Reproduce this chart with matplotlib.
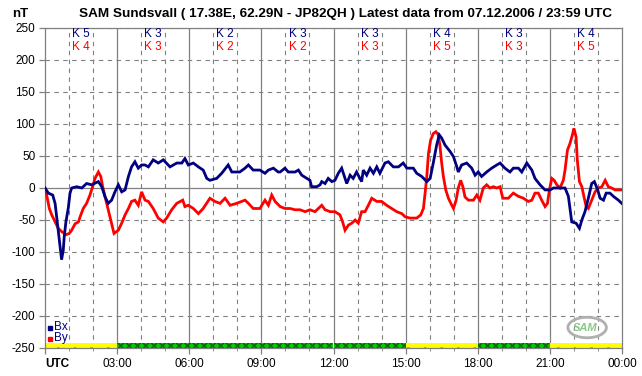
import matplotlib
matplotlib.use("Agg")
import matplotlib.pyplot as plt
from matplotlib.patches import Rectangle, Ellipse

plt.rcParams['font.family'] = ['Liberation Sans', 'DejaVu Sans']
plt.rcParams['hatch.linewidth'] = 1.2

# ---- data (hours UTC, nT) ----
bx_t = [0.0, 0.14, 0.32, 0.42, 0.51, 0.6, 0.65, 0.69, 0.76, 0.8, 0.87, 0.97, 1.04, 1.11, 1.32, 1.53,
        1.73, 1.94, 2.22, 2.36, 2.5, 2.63, 2.77, 2.91, 3.05, 3.19, 3.33, 3.47, 3.6, 3.74, 3.88, 4.02,
        4.16, 4.3, 4.5, 4.71, 4.92, 5.2, 5.48, 5.69, 5.82, 5.96, 6.17, 6.38, 6.58, 6.73, 6.86, 7.14,
        7.35, 7.62, 7.77, 8.1, 8.32, 8.46, 8.66, 8.94, 9.15, 9.29, 9.5, 9.7, 9.78, 9.98, 10.12, 10.4,
        10.54, 10.68, 10.89, 11.02, 11.09, 11.3, 11.44, 11.51, 11.65, 11.78, 11.93, 12.06, 12.2, 12.34,
        12.41, 12.55, 12.69, 12.82, 12.96, 13.03, 13.17, 13.24, 13.38, 13.52, 13.66, 13.8, 13.93, 14.14,
        14.28, 14.49, 14.7, 14.9, 15.05, 15.11, 15.32, 15.46, 15.67, 15.88, 16.02, 16.15, 16.29, 16.4,
        16.5, 16.64, 16.85, 16.99, 17.13, 17.19, 17.33, 17.54, 17.75, 17.89, 18.02, 18.16, 18.37, 18.58,
        18.79, 18.93, 19.13, 19.34, 19.48, 19.69, 19.83, 20.04, 20.25, 20.38, 20.59, 20.8, 21.01, 21.15,
        21.35, 21.63, 21.77, 21.91, 22.09, 22.23, 22.33, 22.46, 22.6, 22.74, 22.85, 22.99, 23.09, 23.23,
        23.34, 23.5, 23.64, 23.85, 23.99]
bx_v = [0, -8, -11, -24, -53, -81, -97, -112, -97, -76, -53, -31, -8, 0, 2, 0,
        7, 5, 10, 2, -14, -24, -19, -6, 5, -6, -3, 18, 33, 41, 31, 36,
        36, 33, 44, 39, 44, 33, 39, 39, 46, 36, 39, 33, 28, 15, 12, 15,
        23, 36, 25, 25, 31, 36, 28, 28, 23, 28, 31, 25, 25, 31, 25, 25,
        28, 20, 15, 12, 2, 2, 5, 10, 7, 15, 10, 12, 23, 31,
        23, 7, 20, 15, 25, 20, 10, 28, 20, 31, 23, 33, 23, 39,
        41, 33, 33, 39, 31, 31, 31, 23, 18, 10, 15, 39, 67, 83,
        78, 67, 57, 49, 33, 25, 36, 39, 31, 20, 25, 18, 25, 31,
        36, 39, 31, 25, 31, 31, 25, 39, 28, 15, 5, -3, -3, 0,
        0, 0, -13, -53, -55, -63, -50, -37, -16, 7, 10, -3, -16, -19,
        -8, -8, -13, -19, -24]

by_t = [0.0, 0.07, 0.18, 0.28, 0.42, 0.55, 0.69, 0.87, 1.01, 1.11, 1.25, 1.39, 1.46, 1.59, 1.73, 1.87,
        1.98, 2.08, 2.22, 2.32, 2.4, 2.5, 2.63, 2.77, 2.87, 3.05, 3.19, 3.33, 3.47, 3.6, 3.74, 3.88,
        4.02, 4.16, 4.3, 4.5, 4.71, 4.92, 5.06, 5.27, 5.48, 5.73, 5.82, 5.96, 6.17, 6.38, 6.58, 6.86,
        7.07, 7.28, 7.49, 7.7, 7.97, 8.32, 8.46, 8.66, 8.94, 9.15, 9.29, 9.43, 9.57, 9.78, 9.98, 10.19,
        10.4, 10.61, 10.82, 11.02, 11.23, 11.37, 11.51, 11.65, 11.86, 12.06, 12.27, 12.38, 12.48, 12.62,
        12.76, 12.9, 13.03, 13.17, 13.31, 13.45, 13.59, 13.8, 14.0, 14.21, 14.42, 14.63, 14.84, 14.98,
        15.18, 15.46, 15.63, 15.74, 15.81, 15.88, 15.95, 16.04, 16.15, 16.26, 16.36, 16.43, 16.5, 16.57,
        16.67, 16.78, 16.92, 16.99, 17.1, 17.19, 17.29, 17.38, 17.47, 17.61, 17.82, 17.96, 18.09, 18.23,
        18.37, 18.51, 18.65, 18.79, 18.93, 19.04, 19.27, 19.48, 19.69, 19.9, 20.1, 20.25, 20.38, 20.52,
        20.66, 20.8, 20.9, 20.98, 21.08, 21.18, 21.29, 21.42, 21.56, 21.63, 21.73, 21.84, 21.95, 22.0,
        22.09, 22.14, 22.23, 22.33, 22.42, 22.51, 22.6, 22.74, 22.88, 23.02, 23.16, 23.3, 23.43, 23.57,
        23.71, 23.99]
by_v = [0, -11, -32, -42, -53, -63, -68, -73, -71, -66, -56, -53, -45, -32, -24, -11,
        2, 15, 25, 18, 2, -14, -34, -55, -71, -66, -55, -42, -32, -21, -19, -27,
        -6, -19, -21, -32, -47, -53, -47, -34, -24, -19, -29, -27, -32, -40, -32, -16,
        -21, -24, -16, -27, -24, -19, -24, -32, -32, -19, -27, -11, -21, -29, -32, -32,
        -34, -34, -37, -34, -37, -32, -27, -34, -37, -37, -42, -53, -66, -58,
        -55, -50, -55, -37, -37, -27, -16, -21, -21, -27, -32, -37, -40, -45,
        -47, -47, -42, -32, -8, 18, 54, 75, 85, 88, 83, 65, 39, 18,
        -3, -16, -27, -32, -19, 0, 12, 2, -14, -19, -19, -11, -19, 0,
        5, 0, 2, 0, 2, -16, -16, -8, -13, -16, -21, -19, -8, -8,
        -19, -29, -24, -3, 15, 12, 5, 0, 12, 28, 59, 70, 85, 93,
        80, 44, 10, 2, -14, -29, -32, -19, -6, 0, 2, 12, 2, 0,
        -3, -3]

block_start = [0, 3, 6, 9, 12, 15, 18, 21]
k_bx = [5, 3, 2, 3, 3, 4, 3, 4]
k_by = [4, 3, 2, 2, 3, 5, 3, 5]
status = ['Y', 'G', 'G', 'G', 'G', 'Y', 'G', 'Y']
x_tick_labels = ['UTC', '03:00', '06:00', '09:00', '12:00', '15:00', '18:00', '21:00', '00:00']

title = "SAM Sundsvall ( 17.38E, 62.29N - JP82QH ) Latest data from 07.12.2006 / 23:59 UTC"

NAVY = '#000080'
RED = '#ff0000'
GRID = '#808080'

W, H = 642, 376
fig = plt.figure(figsize=(W / 100, H / 100), dpi=100)
fig.patch.set_facecolor('white')
ax = fig.add_axes([45 / W, 1 - 348 / H, (622 - 45) / W, (348 - 28) / H])
ax.set_xlim(0, 24)
ax.set_ylim(-250, 250)

# grid
for h in range(1, 24):
    if h % 3 == 0:
        ax.axvline(h, color=GRID, lw=0.9, zorder=1)
    else:
        ax.axvline(h, color=GRID, lw=0.8, ls=(0, (4, 4)), zorder=1)
for v in range(-200, 251, 50):
    if v == 0:
        ax.axhline(v, color=GRID, lw=0.9, zorder=1)
    else:
        ax.axhline(v, color=GRID, lw=0.8, ls=(0, (4, 4)), zorder=1)

for s in ax.spines.values():
    s.set_color(GRID)
    s.set_linewidth(0.9)

# status band
for st, b in zip(status, block_start):
    if st == 'Y':
        ax.add_patch(Rectangle((b, -250), 3, 8, facecolor='#ffff00', edgecolor=RED,
                               hatch='.', lw=0, zorder=2))
    else:
        ax.add_patch(Rectangle((b, -250), 3, 8, facecolor='#00cc00', edgecolor='#007000',
                               hatch='xxxx', lw=0, zorder=2))

# data
ax.plot(bx_t, bx_v, color=NAVY, lw=2.0, zorder=4, solid_joinstyle='miter')
ax.plot(by_t, by_v, color=RED, lw=2.0, zorder=3, solid_joinstyle='miter')

# K indices
for b, kx, ky in zip(block_start, k_bx, k_by):
    ax.text(b + 1.5, 240, f"K {kx}", color=NAVY, fontsize=8.5, ha='center', va='center', zorder=5)
    ax.text(b + 1.5, 221, f"K {ky}", color=RED, fontsize=8.5, ha='center', va='center', zorder=5)

# ticks
ax.set_yticks(range(-250, 251, 50))
ax.set_yticklabels([str(v) for v in range(-250, 251, 50)], fontsize=8.5)
ax.set_xticks(range(0, 25, 3))
ax.set_xticklabels(x_tick_labels, fontsize=8.5)
ax.set_xticks(range(0, 25, 1), minor=True)
ax.tick_params(axis='both', colors=GRID, labelcolor='black', length=4, width=0.9, pad=3)
ax.tick_params(axis='x', which='minor', length=2, colors=GRID)
labs = ax.get_xticklabels()
labs[0].set_fontweight('bold')
labs[0].set_ha('left')

# legend
ax.plot([0.2], [-218], marker='s', ms=3, color=NAVY, ls='none', zorder=5)
ax.plot([0.2], [-236], marker='s', ms=3, color=RED, ls='none', zorder=5)
ax.text(0.38, -217, 'Bx', color=NAVY, fontsize=8.5, va='center', zorder=5)
ax.text(0.38, -235, 'By', color=NAVY, fontsize=8.5, va='center', zorder=5)

# SAM logo (approximation)
ax.add_patch(Ellipse((22.55, -218), 1.6, 32, facecolor='none', edgecolor='#b0b0b0', lw=2.0, zorder=5))
ax.text(22.45, -219, 'SAM', color='#88c888', fontsize=8, fontstyle='italic', fontweight='bold',
        ha='center', va='center', zorder=6)

# title and unit
fig.text(346 / W, 1 - 14 / H, title, fontsize=9.7, fontweight='bold', ha='center', va='center')
fig.text(20 / W, 1 - 14 / H, 'nT', fontsize=9.5, fontweight='bold', ha='center', va='center')

fig.savefig('out.png', dpi=100, facecolor='white')
